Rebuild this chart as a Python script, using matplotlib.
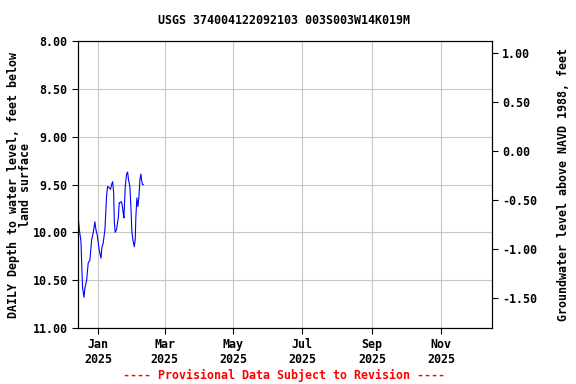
import matplotlib
matplotlib.use('Agg')
import matplotlib.pyplot as plt
import matplotlib.dates as mdates
import numpy as np
import pandas as pd

# days since 2025-01-01
day_offsets = [-17.4, -16.5, -15.0, -14.2, -13.6, -12.4, -11.5, -10.0, -8.6, -7.1,
               -5.6, -4.1, -2.7, -1.8, -0.6, 1.2, 2.7, 3.5, 4.7, 6.2,
               7.7, 8.6, 9.7, 11.2, 12.1, 13.0, 13.9, 14.5, 15.3, 16.5,
               18.0, 18.9, 19.5, 20.9, 21.8, 22.4, 23.0, 24.2, 25.4, 26.3,
               27.1, 28.3, 29.2, 30.1, 31.0, 32.2, 33.0, 33.6, 34.5, 35.4,
               36.3, 37.2, 38.1, 38.6, 39.5, 40.1]
depth = [9.85, 9.97, 10.10, 10.40, 10.58, 10.68, 10.58, 10.50, 10.32, 10.29,
         10.08, 10.00, 9.89, 9.97, 10.03, 10.19, 10.27, 10.16, 10.11, 9.97,
         9.61, 9.52, 9.53, 9.55, 9.50, 9.47, 9.58, 9.89, 10.00, 9.97,
         9.85, 9.69, 9.69, 9.68, 9.74, 9.80, 9.85, 9.52, 9.39, 9.37,
         9.45, 9.52, 9.73, 10.00, 10.08, 10.15, 10.08, 9.84, 9.64, 9.73,
         9.63, 9.45, 9.39, 9.45, 9.50, 9.50]

left_ticks = [8.0, 8.5, 9.0, 9.5, 10.0, 10.5, 11.0]
right_ticks = [1.0, 0.5, 0.0, -0.5, -1.0, -1.5]

dates = pd.Timestamp('2025-01-01') + pd.to_timedelta(day_offsets, unit='D')

font = 'DejaVu Sans Mono'
plt.rcParams['font.family'] = font
plt.rcParams['font.weight'] = 'bold'
fs = 8.4

fig = plt.figure(figsize=(5.76, 3.84), dpi=100)
ax = fig.add_axes([0.1354, 0.146, 0.7186, 0.747])

ax.plot(dates, depth, color='blue', linewidth=0.8)

ax.set_ylim(11.0, 8.0)
ax.set_yticks(left_ticks)
ax.set_yticklabels(['%.2f' % v for v in left_ticks], fontsize=fs, fontweight='bold')
ax.set_xlim(pd.Timestamp('2024-12-14 08:00'), pd.Timestamp('2025-12-16'))
ax.xaxis.set_major_locator(mdates.MonthLocator(bymonth=[1, 3, 5, 7, 9, 11]))
ax.xaxis.set_major_formatter(mdates.DateFormatter('%b\n%Y'))
plt.setp(ax.get_xticklabels(), fontsize=fs, fontweight='bold')
ax.grid(True, color='#c8c8c8', linewidth=0.8)
ax.tick_params(length=4, width=0.8)
ax.set_ylabel('DAILY Depth to water level, feet below\nland surface', fontsize=fs,
              fontweight='bold', linespacing=0.9, labelpad=0.5)

ax2 = ax.twinx()
ax2.set_ylim(-1.80, 1.123)
ax2.set_yticks(right_ticks)
ax2.set_yticklabels(['%.2f' % v for v in right_ticks], fontsize=fs, fontweight='bold')
ax2.tick_params(length=4, width=0.8)
ax2.set_ylabel('Groundwater level above NAVD 1988, feet', fontsize=fs,
               fontweight='bold', labelpad=14)

fig.text(0.493, 0.946, 'USGS 374004122092103 003S003W14K019M', ha='center', va='center',
         fontsize=fs, fontweight='bold')
fig.text(0.493, 0.023, '---- Provisional Data Subject to Revision ----', ha='center',
         va='center', fontsize=fs, fontweight='bold', color='red')

fig.savefig('out.png', dpi=100)
